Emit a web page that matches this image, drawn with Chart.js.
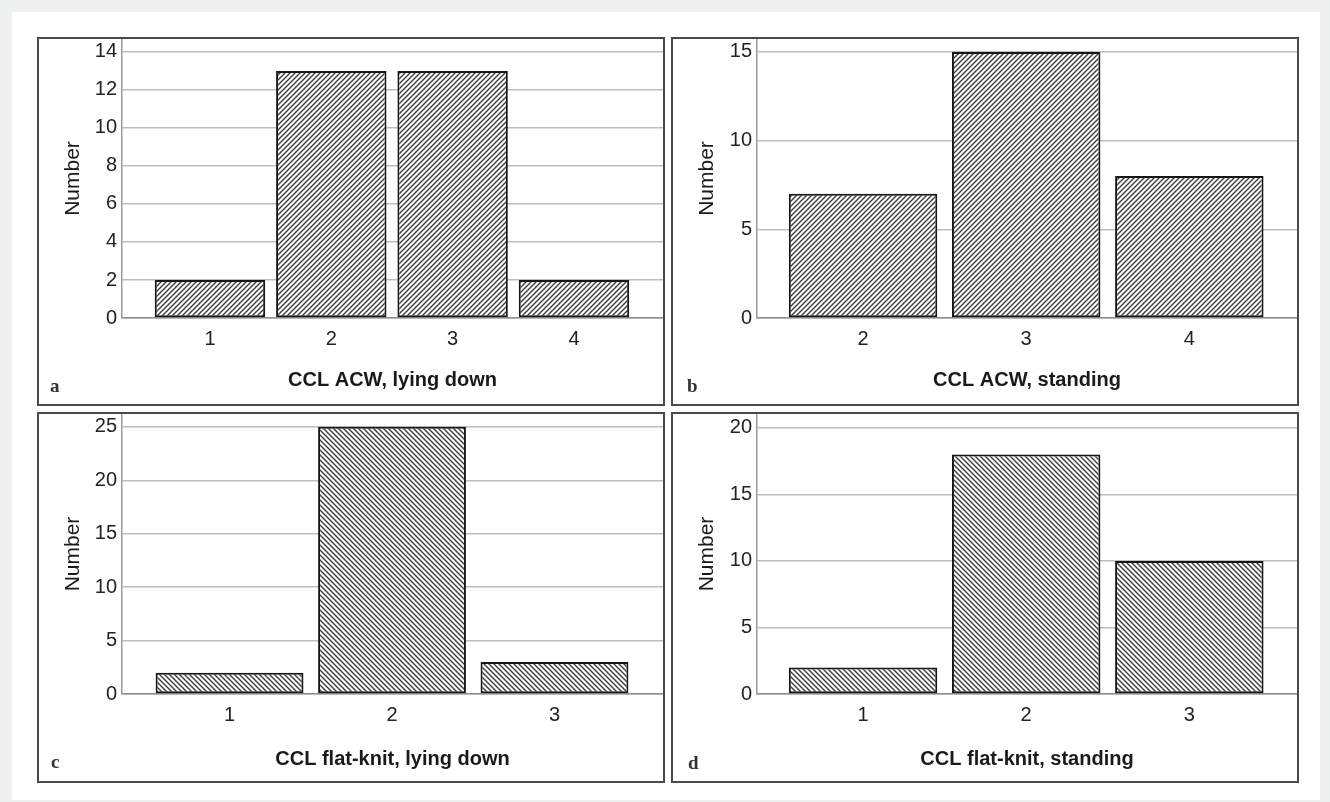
<!DOCTYPE html>
<html>
<head>
<meta charset="utf-8">
<script src="https://cdn.jsdelivr.net/npm/chart.js@4/dist/chart.umd.min.js"></script>
<style>
  html, body { margin: 0; padding: 0; }
  body { width: 1330px; height: 802px; background: #eff1f1; position: relative; overflow: hidden; }
  #sheet { position: absolute; left: 12px; top: 12px; width: 1308px; height: 788px; background: #fff; }
  .panel { position: absolute; box-sizing: border-box; border: 2px solid #4a4a4a; background: #fff; }
  .panel canvas { display: block; }
</style>
</head>
<body>
<div id="sheet"></div>
<div class="panel" style="left:37px;top:37px;width:628px;height:369px"><canvas id="chartA" width="624" height="365"></canvas></div>
<div class="panel" style="left:671px;top:37px;width:628px;height:369px"><canvas id="chartB" width="624" height="365"></canvas></div>
<div class="panel" style="left:37px;top:412px;width:628px;height:371px"><canvas id="chartC" width="624" height="367"></canvas></div>
<div class="panel" style="left:671px;top:412px;width:628px;height:371px"><canvas id="chartD" width="624" height="367"></canvas></div>

<script>
'use strict';

// data
const catsA = [1, 2, 3, 4];
const valsA = [2, 13, 13, 2];
const catsB = [2, 3, 4];
const valsB = [7, 15, 8];
const catsC = [1, 2, 3];
const valsC = [2, 25, 3];
const catsD = [1, 2, 3];
const valsD = [2, 18, 10];

const titleA = 'CCL ACW, lying down';
const titleB = 'CCL ACW, standing';
const titleC = 'CCL flat-knit, lying down';
const titleD = 'CCL flat-knit, standing';
const yTitle = 'Number';

// hatch fill, dir '/' or '\'
function hatch(dir){
  const size = 5;
  const c = document.createElement('canvas');
  c.width = size; c.height = size;
  const g = c.getContext('2d');
  g.fillStyle = '#fff';
  g.fillRect(0, 0, size, size);
  g.strokeStyle = '#3c3c3c';
  g.lineWidth = 1.4;
  g.beginPath();
  if(dir === '/'){
    g.moveTo(-1, size + 1); g.lineTo(size + 1, -1);
    g.moveTo(-2, 2); g.lineTo(2, -2);
    g.moveTo(size - 2, size + 2); g.lineTo(size + 2, size - 2);
  }else{
    g.moveTo(-1, -1); g.lineTo(size + 1, size + 1);
    g.moveTo(-2, size - 2); g.lineTo(2, size + 2);
    g.moveTo(size - 2, -2); g.lineTo(size + 2, 2);
  }
  g.stroke();
  return g.createPattern(c, 'repeat');
}

// small panel letter in bottom-left corner
const letterPlugin = {
  id: 'panelLetter',
  afterDraw(chart, args, opts){
    const ctx = chart.ctx;
    ctx.save();
    ctx.font = 'bold 19px "Liberation Serif", serif';
    ctx.fillStyle = '#333';
    ctx.textBaseline = 'alphabetic';
    ctx.fillText(opts.text, opts.x, opts.y);
    ctx.restore();
  }
};

function makeChart(cfg){
  const ctx = document.getElementById(cfg.id);
  return new Chart(ctx, {
    type: 'bar',
    data: {
      datasets: [{
        data: cfg.cats.map((c, i) => ({x: c, y: cfg.vals[i]})),
        backgroundColor: hatch(cfg.dir),
        borderColor: '#161616',
        borderWidth: 2,
        borderSkipped: false,
        categoryPercentage: 1,
        barPercentage: 0.91
      }]
    },
    options: {
      responsive: false,
      animation: false,
      devicePixelRatio: 1,
      layout: { padding: 0 },
      plugins: {
        legend: { display: false },
        tooltip: { enabled: false },
        panelLetter: cfg.letter
      },
      scales: {
        x: {
          type: 'linear',
          offset: false,
          min: cfg.xMin,
          max: cfg.xMax,
          ticks: {
            stepSize: 1,
            includeBounds: false,
            padding: 9,
            color: '#222',
            font: { family: '"Liberation Sans", Arial, sans-serif', size: 20 }
          },
          grid: { display: true, drawOnChartArea: false, drawTicks: false },
          border: { color: '#8e8e8e', width: 1.5 },
          title: {
            display: true,
            text: cfg.title,
            color: '#1a1a1a',
            font: { family: '"Liberation Sans", Arial, sans-serif', size: 20, weight: 'bold' },
            padding: { top: 0, bottom: cfg.titlePad }
          },
          afterFit: s => { s.height = cfg.xHeight; s.paddingLeft = 0; s.paddingRight = 0; }
        },
        y: {
          min: 0,
          max: cfg.yMax,
          ticks: {
            stepSize: cfg.yStep,
            includeBounds: false,
            padding: 5,
            color: '#222',
            font: { family: '"Liberation Sans", Arial, sans-serif', size: 20 }
          },
          grid: { color: '#bdbdbd', lineWidth: 1.5, drawTicks: false },
          border: { color: '#9a9a9a', width: 1.5 },
          title: {
            display: true,
            text: yTitle,
            color: '#1a1a1a',
            font: { family: '"Liberation Sans", Arial, sans-serif', size: 21 },
            padding: { top: 22, bottom: 0 }
          },
          afterFit: s => { s.width = cfg.yWidth; s.paddingTop = 0; s.paddingBottom = 0; }
        }
      }
    },
    plugins: [letterPlugin]
  });
}

makeChart({ id: 'chartA', cats: catsA, vals: valsA, title: titleA, dir: '/',
  xMin: 0.275, xMax: 4.734, yMax: 14.68, yStep: 2, xHeight: 86, yWidth: 83, titlePad: 12,
  letter: { text: 'a', x: 11, y: 353 } });
makeChart({ id: 'chartB', cats: catsB, vals: valsB, title: titleB, dir: '/',
  xMin: 1.35, xMax: 4.66, yMax: 15.73, yStep: 5, xHeight: 86, yWidth: 84, titlePad: 12,
  letter: { text: 'b', x: 14, y: 353 } });
makeChart({ id: 'chartC', cats: catsC, vals: valsC, title: titleC, dir: '\\',
  xMin: 0.338, xMax: 3.668, yMax: 26.2, yStep: 5, xHeight: 87, yWidth: 83, titlePad: 10,
  letter: { text: 'c', x: 12, y: 354 } });
makeChart({ id: 'chartD', cats: catsD, vals: valsD, title: titleD, dir: '\\',
  xMin: 0.35, xMax: 3.66, yMax: 21.05, yStep: 5, xHeight: 87, yWidth: 84, titlePad: 10,
  letter: { text: 'd', x: 15, y: 355 } });
</script>
</body>
</html>
